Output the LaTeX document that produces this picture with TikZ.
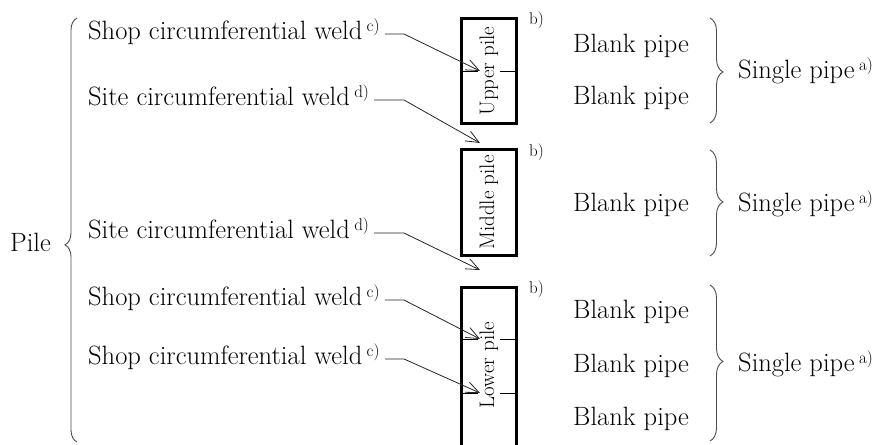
\documentclass[tikz,border=0pt]{standalone}
\usepackage{amsmath}
\usetikzlibrary{arrows.meta, calc, decorations.pathreplacing, positioning}
\newcommand{\fnote}[1]{\,\raisebox{8pt}{\fontsize{17}{19}\selectfont #1}}

\begin{document}
\begin{tikzpicture}[x=1pt, y=-1pt,
	lbl/.style={inner sep=0pt, anchor=west, font=\fontsize{26.5}{30}\selectfont, text height=11.4pt, text depth=0pt},
	pilebox/.style={draw, line width=3pt, minimum width=55pt, inner sep=0pt},
	piletext/.style={rotate=90, fill=white, inner sep=2pt, font=\fontsize{21}{24}\selectfont},
	note/.style={inner sep=0pt, anchor=base west, font=\fontsize{17}{19}\selectfont},
	weld/.style={draw=black!85, line width=0.8pt, -{Straight Barb[length=13pt, width=11pt]}},
	bracket/.style={draw=black!70, line width=0.9pt, decorate, decoration={brace, amplitude=#1}},
	bracket/.default=12pt]
	\useasboundingbox (0,0) rectangle (882,444);
	\clip (0,0) rectangle (882,444);

	\node[pilebox, minimum height=105pt] (upper) at (489,71) {};
	\node[pilebox, minimum height=106pt] (middle) at (489,202.5) {};
	\node[pilebox, minimum height=170pt] (lower) at (489,372) {};

	\coordinate (bend) at (404,0);
	\coordinate (t1) at (480,71);
	\coordinate (t2) at (480,143);
	\coordinate (t3) at (480,270);
	\coordinate (t4) at (480,339);
	\coordinate (t5) at (480,393);

	\draw[line width=0.7pt]
	(upper.west |- t1) -- (upper.east |- t1)
	(lower.west |- t4) -- (lower.east |- t4)
	(lower.west |- t5) -- (lower.east |- t5);

	\node[piletext] (uppertext) at (upper) {Upper pile};
	\node[piletext] (middletext) at (middle) {Middle pile};
	\node[piletext] (lowertext) at (489,365) {Lower pile};

	\node[note] (bu) at ($(upper.north east)+(11,8)$) {b)};
	\node[note] (bm) at ($(middle.north east)+(11,8)$) {b)};
	\node[note] (bl) at ($(lower.north east)+(11,8)$) {b)};

	\node[lbl] (w1) at (88,34) {Shop circumferential weld\fnote{c)}};
	\node[lbl] (w2) at (88,100) {Site circumferential weld\fnote{d)}};
	\node[lbl] (w3) at (88,233) {Site circumferential weld\fnote{d)}};
	\node[lbl] (w4) at (88,300) {Shop circumferential weld\fnote{c)}};
	\node[lbl] (w5) at (88,359) {Shop circumferential weld\fnote{c)}};

	\draw[weld] ([xshift=5pt]w1.east) -- (w1.east -| bend) -- (t1);
	\draw[weld] ([xshift=5pt]w2.east) -- (w2.east -| bend) -- (t2);
	\draw[weld] ([xshift=5pt]w3.east) -- (w3.east -| bend) -- (t3);
	\draw[weld] ([xshift=5pt]w4.east) -- (w4.east -| bend) -- (t4);
	\draw[weld] ([xshift=5pt]w5.east) -- (w5.east -| bend) -- (t5);

	\node[lbl] (pile) at (10,246) {Pile};
	\foreach \y [count=\i] in {47,99,206,313,367,420}
		\node[lbl] (bp\i) at (573,\y) {Blank pipe};
	\foreach \y [count=\i] in {73,206,366}
		\node[lbl] (sp\i) at (738,\y) {Single pipe\fnote{a)}};

	\draw[bracket, decoration={aspect=0.465}] (77,442) -- (77,18);
	\draw[bracket=13pt, decoration={aspect=0.514}] (710,18) -- (710,123);
	\draw[bracket=13pt, decoration={aspect=0.49}] (710,150) -- (710,256);
	\draw[bracket=13pt, decoration={aspect=0.49}] (710,285) -- (710,441);
\end{tikzpicture}
\end{document}
